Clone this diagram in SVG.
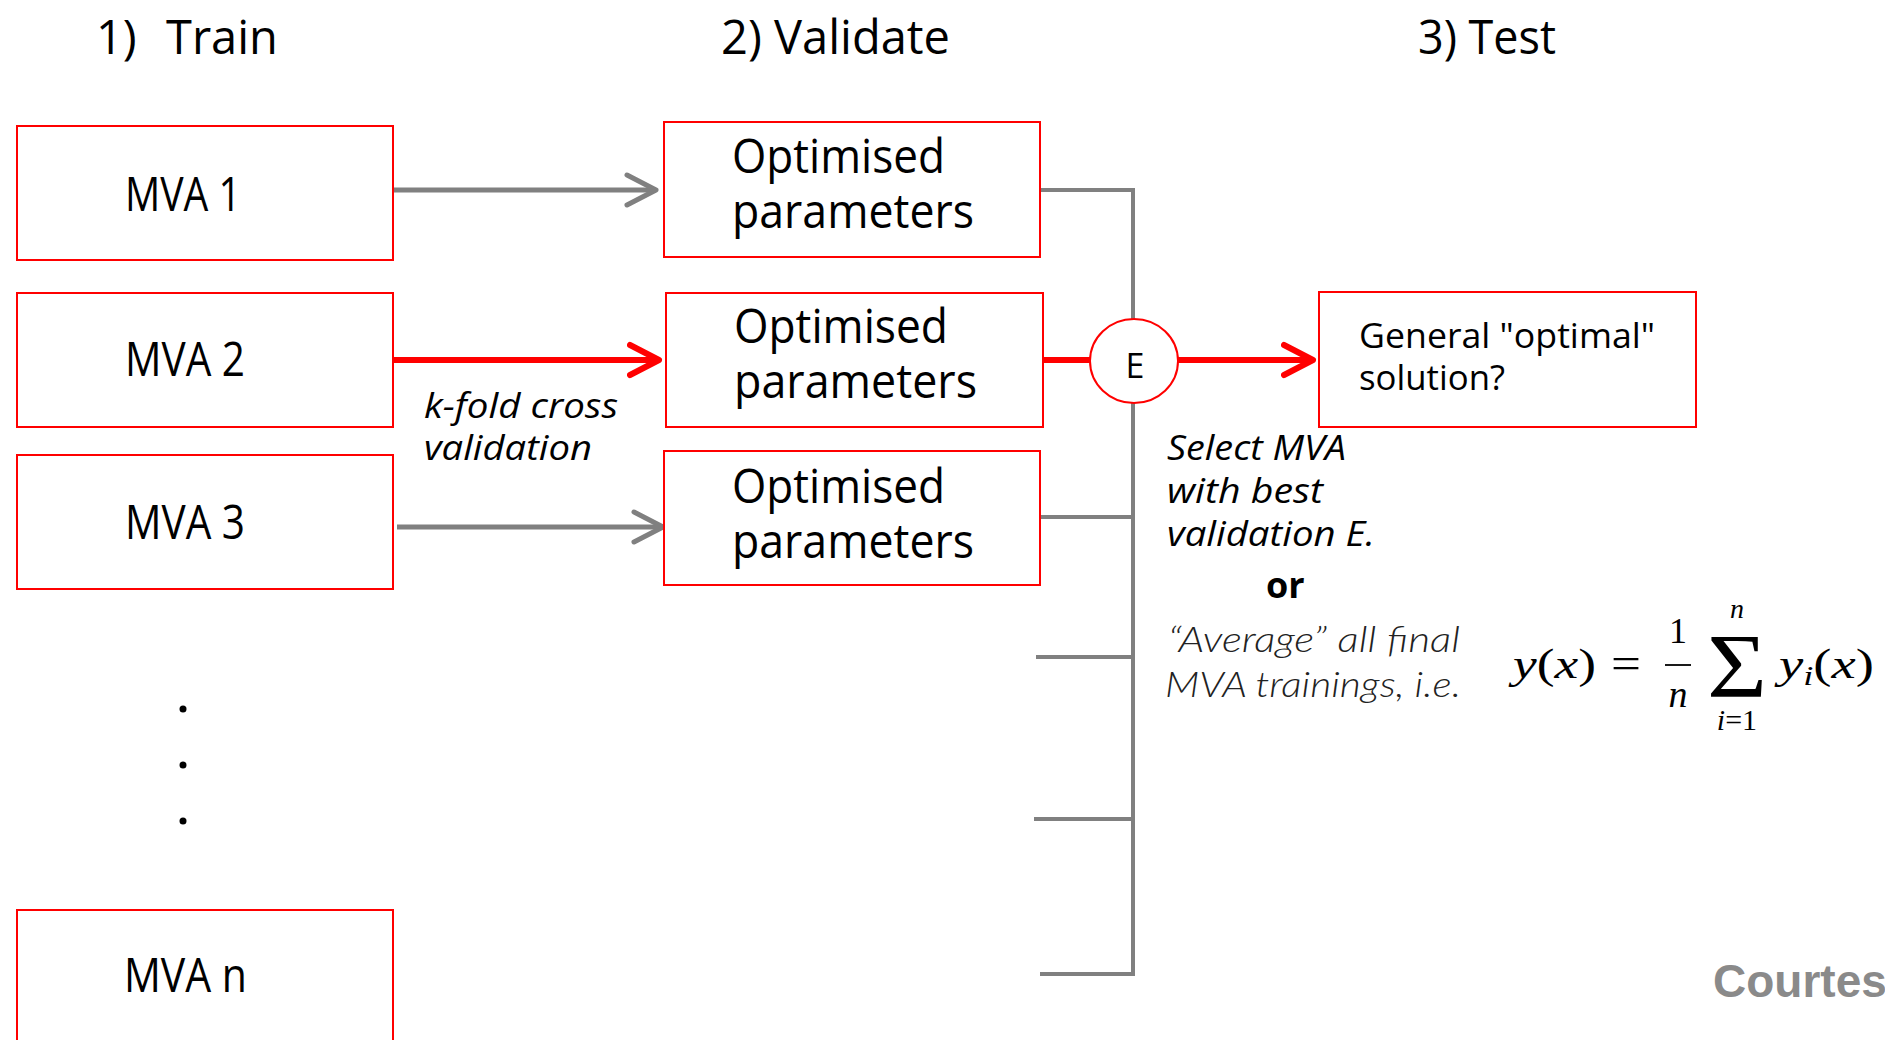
<svg xmlns="http://www.w3.org/2000/svg" width="1885" height="1040" viewBox="0 0 1885 1040">
<style>
.box{fill:#fff;stroke:#ff0000;stroke-width:2}
.t{font-family:"Open Sans","Noto Sans",sans-serif;fill:#000}
.big{font-size:47px}
.mid{font-size:35px}
.it{font-family:"Open Sans","Noto Sans",sans-serif;font-style:italic;font-size:34px;fill:#000}
.lt{font-family:Lato,"Liberation Sans",sans-serif;font-style:italic;font-weight:300;font-size:35px;fill:#222}
.gray{stroke:#808080;stroke-width:5;fill:none}
.red{stroke:#ff0000;stroke-width:6;fill:none}
.bus{stroke:#808080;stroke-width:4;fill:none}
.m{font-family:"Liberation Serif","DejaVu Serif",serif;fill:#000}
.i{font-style:italic}
</style>
<defs>
<marker id="ag" markerUnits="userSpaceOnUse" viewBox="0 0 44 44" markerWidth="44" markerHeight="44" refX="28" refY="20" orient="auto">
<path d="M3,5 L32,20 L3,35" fill="none" stroke="#808080" stroke-width="5" stroke-linecap="round" stroke-linejoin="round"/>
</marker>
<marker id="ar" markerUnits="userSpaceOnUse" viewBox="0 0 44 44" markerWidth="44" markerHeight="44" refX="28" refY="20" orient="auto">
<path d="M3,5 L32,20 L3,35" fill="none" stroke="#ff0000" stroke-width="6" stroke-linecap="round" stroke-linejoin="round"/>
</marker>
</defs>
<rect width="1885" height="1040" fill="#fff"/>

<g id="titles">
<text class="t big" x="96" y="54">1) <tspan x="166">Train</tspan></text>
<text class="t big" x="721" y="54" textLength="229" lengthAdjust="spacingAndGlyphs">2) Validate</text>
<text class="t big" x="1418" y="54" textLength="138" lengthAdjust="spacingAndGlyphs">3) Test</text>
</g>

<g id="connectors">
<path class="gray" d="M393,190 H652" marker-end="url(#ag)"/>
<path class="red" d="M393,360 H655" marker-end="url(#ar)"/>
<path class="gray" d="M397,527 H659" marker-end="url(#ag)"/>
<path class="bus" d="M1040,190 H1133 V974 H1040"/>
<path class="bus" d="M1040,517 H1133"/>
<path class="bus" d="M1036,657 H1133"/>
<path class="bus" d="M1034,819 H1133"/>
<path class="red" d="M1043,360 H1092"/>
<path class="red" d="M1178,360 H1309" marker-end="url(#ar)"/>
</g>

<g id="mva1">
<rect class="box" x="17" y="126" width="376" height="134"/>
<text class="t big" x="125" y="211" textLength="116" lengthAdjust="spacingAndGlyphs">MVA 1</text>
</g>
<g id="mva2">
<rect class="box" x="17" y="293" width="376" height="134"/>
<text class="t big" x="125" y="376" textLength="120" lengthAdjust="spacingAndGlyphs">MVA 2</text>
</g>
<g id="mva3">
<rect class="box" x="17" y="455" width="376" height="134"/>
<text class="t big" x="125" y="539" textLength="120" lengthAdjust="spacingAndGlyphs">MVA 3</text>
</g>
<g id="dots">
<circle cx="183" cy="709" r="3.5" fill="#000"/>
<circle cx="183" cy="765" r="3.5" fill="#000"/>
<circle cx="183" cy="821" r="3.5" fill="#000"/>
</g>
<g id="mvan">
<rect class="box" x="17" y="910" width="376" height="140"/>
<text class="t big" x="124" y="992" textLength="123" lengthAdjust="spacingAndGlyphs">MVA n</text>
</g>

<g id="opt1">
<rect class="box" x="664" y="122" width="376" height="135"/>
<text class="t big" x="732" y="173" textLength="213" lengthAdjust="spacingAndGlyphs">Optimised</text>
<text class="t big" x="732" y="228" textLength="242" lengthAdjust="spacingAndGlyphs">parameters</text>
</g>
<g id="opt2">
<rect class="box" x="666" y="293" width="377" height="134"/>
<text class="t big" x="734" y="343" textLength="214" lengthAdjust="spacingAndGlyphs">Optimised</text>
<text class="t big" x="734" y="398" textLength="243" lengthAdjust="spacingAndGlyphs">parameters</text>
</g>
<g id="opt3">
<rect class="box" x="664" y="451" width="376" height="134"/>
<text class="t big" x="732" y="503" textLength="213" lengthAdjust="spacingAndGlyphs">Optimised</text>
<text class="t big" x="732" y="558" textLength="242" lengthAdjust="spacingAndGlyphs">parameters</text>
</g>

<g id="e-node">
<ellipse cx="1134" cy="361" rx="44" ry="42" fill="#fff" stroke="#ff0000" stroke-width="2"/>
<text class="t" x="1135" y="378" font-size="34" text-anchor="middle">E</text>
</g>

<g id="solution">
<rect class="box" x="1319" y="292" width="377" height="135"/>
<text class="t mid" x="1359" y="348" textLength="296" lengthAdjust="spacingAndGlyphs">General "optimal"</text>
<text class="t mid" x="1359" y="390" textLength="146" lengthAdjust="spacingAndGlyphs">solution?</text>
</g>

<g id="annotations">
<text class="it" x="424" y="418" textLength="194" lengthAdjust="spacingAndGlyphs">k-fold cross</text>
<text class="it" x="424" y="460" textLength="168" lengthAdjust="spacingAndGlyphs">validation</text>
<text class="it" x="1167" y="460" textLength="179" lengthAdjust="spacingAndGlyphs">Select MVA</text>
<text class="it" x="1167" y="503" textLength="156" lengthAdjust="spacingAndGlyphs">with best</text>
<text class="it" x="1167" y="546" textLength="208" lengthAdjust="spacingAndGlyphs">validation E.</text>
<text class="t" x="1266" y="598" font-size="36" font-weight="bold">or</text>
<text class="lt" x="1168" y="652" textLength="292" lengthAdjust="spacingAndGlyphs">“Average” all final</text>
<text class="lt" x="1165" y="697" textLength="296" lengthAdjust="spacingAndGlyphs">MVA trainings, i.e.</text>
</g>

<g id="formula">
<text class="m" x="1513" y="678" font-size="42" textLength="83" lengthAdjust="spacingAndGlyphs"><tspan class="i">y</tspan>(<tspan class="i">x</tspan>)</text>
<text class="m" x="1611" y="678" font-size="44" textLength="30" lengthAdjust="spacingAndGlyphs">=</text>
<text class="m" x="1678" y="643" font-size="36" text-anchor="middle">1</text>
<line x1="1665" y1="665" x2="1691" y2="665" stroke="#000" stroke-width="1.8"/>
<text class="m i" x="1678" y="707" font-size="38" text-anchor="middle">n</text>
<text class="m" x="1707" y="697" font-size="90" textLength="60" lengthAdjust="spacingAndGlyphs">Σ</text>
<text class="m i" x="1737" y="618" font-size="28" text-anchor="middle">n</text>
<text class="m" x="1737" y="730" font-size="30" text-anchor="middle"><tspan class="i">i</tspan>=1</text>
<text class="m" x="1779" y="678" font-size="42" textLength="95" lengthAdjust="spacingAndGlyphs"><tspan class="i">y</tspan><tspan class="i" font-size="28" dy="7">i</tspan><tspan dy="-7">(</tspan><tspan class="i">x</tspan>)</text>
</g>

<text x="1713" y="997" font-family="Liberation Sans, Arial, sans-serif" font-weight="bold" font-size="46" fill="#8a8a8a">Courtes</text>
</svg>
